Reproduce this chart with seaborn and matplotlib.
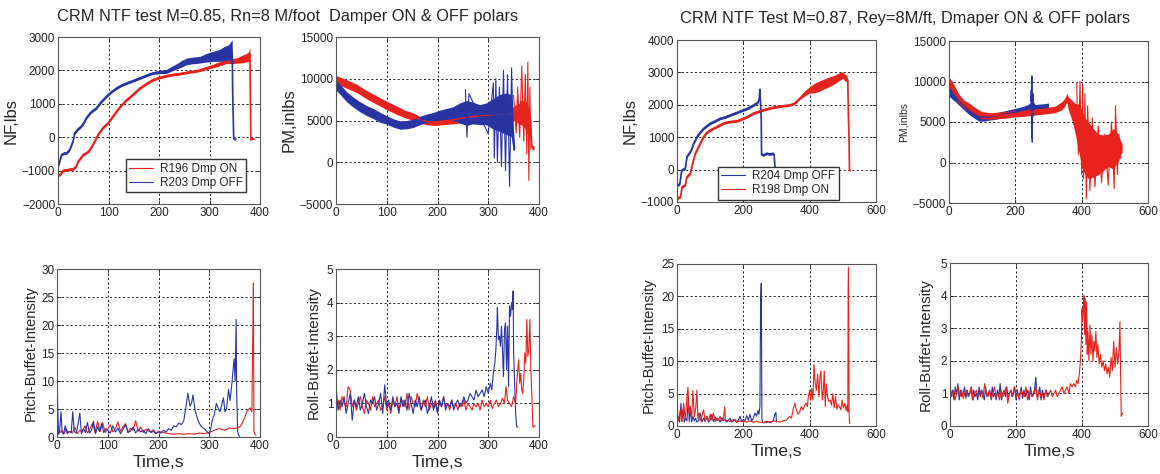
import numpy as np
import matplotlib
matplotlib.use("Agg")
import matplotlib.pyplot as plt
import seaborn as sns

sns.set_theme(style="white")
plt.rcParams['font.family'] = ['Liberation Sans', 'DejaVu Sans']

RED = "#e8221c"
BLUE = "#2834a2"

# ---------------- Left group: M=0.85 ----------------
nfL_red_t = [0,5,10,20,30,36,40,50,60,63, 70,76,80,90,99,110,116,125,136,150,
             162,175,188,200,215,230,241,255,268,280, 294,305,314,325,334,342,347,355,360,367,
             373,378,380,381,382,384,388]
nfL_red_v = [-1150,-1100,-1000,-970,-950,-870,-720,-520,-430,-370, -200,-25,100,300,425,650,775,950,1120,1300,
             1470,1600,1720,1780,1840,1880,1900,1940,1970,2000, 2070,2120,2170,2220,2270,2270,2280,2300,2320,2350,
             2380,2420,2500,1200,-80,-50,-50]
nfL_red_w = [40]*30 + [50,50,60,60,60,70,80,80,100,120,120,150,200,20,20,20,20]

nfL_blue_t = [0,3,7,12,17,22,26,30,33,40, 46,52,56,65,76,85,96,105,116,125,
              136,150,162,175,188,200,215,225,235,245, 255,268,281,294,307,320,330,338,344,345,
              346,348,350,352]
nfL_blue_v = [-870,-750,-520,-480,-470,-400,-270,-100,125,250, 325,450,575,750,875,1050,1225,1350,1470,1550,
              1620,1700,1770,1850,1920,1950,1970,2050,2120,2200, 2270,2300,2320,2380,2420,2450,2500,2520,2550,2500,
              1200,-50,-70,-50]
nfL_blue_w = [40]*25 + [50,60,70,80,100, 100,100,100,130,150,180,220,250,350,400, 30,20,20,20]

pmL_red_t = [0,20,41,60,80,100,119,135,152,165, 178,195,210,231,260,290,320,349,355,360,
             365,370,374,378,381,384,386,390]
pmL_red_v = [9900,9400,8840,8100,7445,6800,6250,5800,5460,5100, 4900,4800,4900,5100,5400,5600,5700,5800,5900,5800,
             6000,5800,5500,5000,4500,4000,1800,1700]
pmL_red_w = [500,500,500,500,500,500,500,450,450,400, 400,400,400,500,600,600,600,
             800,1000,1200,1500,1500,1800,1800,1500,1200,300,200]
pmL_red_spk_t = [350,355,358,362,366,370,373,376,378,380,382,384]
pmL_red_spk_v = [8000,3500,9000,3000,11500,2500,10500,1000,12000,-2200,9000,1500]

pmL_blue_t = [0,10,21,34,47,60,73,86,100,113, 126,139,152,165,178,191,205,218,231,244,
              257,270,283,296,309,322,336,345,349,352]
pmL_blue_v = [9230,8600,7840,7200,6650,6200,5850,5400,5060,4700, 4460,4500,4660,5000,5260,5450,5650,5750,5850,5900,
              5900,5900,5700,5800,5800,5900,5800,5600,3000,1700]
pmL_blue_w = [600,600,600,600,600,600,600,600,500,500, 500,500,500,500,500,500,600,700,800,1200,
              1500,1300,1200,1300,1800,2200,2500,2500,1500,300]
pmL_blue_spk_t = [255,258,262,300,310,312,315,318,322,326,330,334,338,342,346,350]
pmL_blue_spk_v = [8700,3000,8200,3400,9500,500,10000,0,9000,-500,11000,-1000,10500,-2900,11300,1500]

pitchL_blue_t = [0,1,3,5,8,10,13,16,20,24, 28,31,34,38,42,45,48,52,56,60,
                 64,68,72,76,80,84,88,92,96,100, 105,110,115,120,125,130,135,140,145,150,
                 155,160,165,170,175,180,185,190,195,200, 205,210,215,220,225,230,235,240,245,250,
                 255,258,262,265,268,272,276,280,285,290, 295,300,303,306,310,314,318,321,324,328,
                 331,334,338,341,344,347,349,351,353,354, 356,358,360]
pitchL_blue_v = [1,7,0.5,1,4.5,0.8,0.5,2,0.6,1, 0.8,4.5,1,0.7,2.5,4.3,0.6,1.5,0.8,2.6,
                 0.7,1.2,2.8,0.6,1.8,1,2.4,0.8,1.5,1.2, 0.7,2,0.9,1.6,0.6,1.3,2.2,0.8,1.1,1.8,
                 0.7,1.4,0.9,1.2,0.6,1.5,0.8,1.0,0.6,0.9, 0.7,1.2,0.9,1.5,1.2,2,1.8,2.5,2.2,3,
                 6,7.8,5.5,6,7.5,4.8,3.5,2.5,1.8,1.5, 1,0.6,1.5,3,4,6,5,4.5,5.5,7,
                 4.5,5,8.5,6.5,9,12,14,10,21,8, 1,0.3,0.1]
pitchL_red_t = [0,1,3,6,10,14,18,22,26,30, 35,40,45,50,55,60,65,70,75,80,
                85,90,95,100,105,110,115,120,125,130, 135,140,145,150,155,160,165,170,175,180,
                185,190,195,200,210,220,230,240,250,260, 270,280,290,300,310,320,330,340,350,360,
                365,370,374,378,381,384,386,387,388,390, 392]
pitchL_red_v = [10,2,0.6,0.8,1.2,0.6,1.5,0.8,1,0.7, 1.8,0.6,1.2,0.9,2,0.7,1.5,2.5,0.8,2.8,
                1,2.6,0.8,1.4,2.2,0.9,1.5,2.7,1,1.8, 2.4,0.8,1.6,1.2,2.9,1,1.8,0.8,1.4,1.1,
                0.9,1.3,0.7,1,0.8,0.6,0.5,0.6,0.5,0.6, 0.5,0.7,0.6,0.8,1.2,1.5,1.2,1.6,1.5,1.8,
                2.5,3.5,4.5,5,5.2,4.5,20,27.5,1,0.5, 0.3]

rollL_blue_t = list(range(0, 292, 4)) + [292,296,300,304,307,310,313,315,317,318,
                                           320,322,324,326,328,330,332,334,336,338,
                                           340,342,344,346,348,349,350,352,354,356,358]
rollL_blue_v = [1.55,0.8,1.1,0.9,1.2,0.7,1.0,1.3,0.5,1.1, 0.9,1.2,0.8,1.0,1.3,0.9,0.7,1.1,1.0,1.2,
                0.8,1.0,1.3,0.7,1.55,0.9,1.1,0.8,1.2,0.9, 1.0,0.7,1.2,0.9,1.1,0.8,1.3,1.0,0.7,1.1,
                0.9,1.2,0.8,1.0,1.1,0.7,0.9,1.2,0.8,1.0, 0.7,1.1,0.9,1.2,0.8,1.0,0.9,1.1,0.8,1.0,
                1.1,0.9,1.0,1.2,1.0,1.1,1.3,1.2,1.1,1.4, 1.2,1.3,1.4,
                1.2,1.5,1.3,1.6,1.4,1.9,2.2,2.6,3.3,3.85, 2.9,3.0,2.7,3.3,2.6,1.8,3.2,3.4,2.0,3.3,
                1.5,3.9,3.6,4.0,3.8,4.35,2.5,1.6,0.7,0.3, 0.3]
rollL_red_t = list(range(0, 300, 4)) + [300,304,308,312,316,320,324,328,332,335,
                                          338,342,346,350,354,357,360,362,364,366,
                                          368,370,372,374,376,378,380,382,384,386,388,390,392]
rollL_red_v = [0.9,1.1,0.8,1.2,1.0,0.9,1.5,1.4,0.9,1.1, 0.8,1.0,1.2,0.9,0.7,1.1,1.0,0.8,1.2,0.9,
               1.0,1.1,0.8,0.9,1.2,0.8,1.0,0.7,1.1,0.9, 1.2,0.8,1.0,1.1,0.9,1.3,0.8,1.2,1.0,0.9,
               1.3,1.0,0.8,1.1,0.9,1.2,0.8,1.0,0.9,1.1, 0.8,1.0,0.9,1.2,0.9,1.0,0.8,1.1,0.9,1.0,
               0.8,1.0,0.9,1.1,0.8,1.0,0.9,0.8,1.0,0.9, 1.0,0.8,1.1,0.9,1.0,
               0.9,1.1,0.85,1.0,1.1,0.9,1.0,1.15,1.0,1.5, 1.1,1.0,0.9,1.2,1.0,1.8,2.3,1.6,1.9,1.4,
               1.3,1.7,2.5,2.2,3.5,2.4,2.6,3.5,2.0,1.2, 0.3,0.3,0.35]

# ---------------- Right group: M=0.87 ----------------
nfR_blue_t = [0,8,10,13,15,25,28,30,40,45, 50,55,60,70,80,90,100,115,130,145,
              160,180,200,215,230,240,245,248,250,252, 254,255,257,260,270,280,290,293,295,298]
nfR_blue_v = [-475,-450,-320,-100,-10,40,250,400,550,650, 810,900,1015,1150,1270,1350,1430,1500,1580,1620,
              1680,1760,1840,1900,1990,2050,2100,2200,2480,2000, 1500,450,470,450,500,480,500,450,100,0]
nfR_blue_w = [40]*40
nfR_red_t = [0,10,13,15,25,28,30,40,45,50, 55,60,65,80,90,100,115,130,145,160,
             180,200,215,230,245,260,280,300,320,340, 355,370,385,400,415,430,445,460,475,490,
             500,505,510,513,515,517,519,520,522]
nfR_red_v = [-890,-840,-700,-530,-475,-300,-220,-115,100,300, 500,600,710,1015,1150,1220,1300,1380,1450,1480,
             1500,1580,1650,1740,1790,1840,1900,1940,1970,1990, 2050,2200,2350,2460,2520,2580,2650,2710,2780,2870,
             2920,2850,2820,2800,2700,1580,800,-30,-30]
nfR_red_w = [40]*32 + [80,100,150,160,150,150,130,120,100,100, 100,80,80,60,30,20,20]

pmR_blue_t = [0,10,20,30,45,60,75,90,105,120, 135,150,175,200,225,240,245,248,250,252,
              255,260,270,285,300]
pmR_blue_v = [8900,8500,8100,7670,7000,6440,6000,5620,5600,5620, 5700,5820,6000,6230,6450,6600,6650,6700,6650,6650,
              6650,6650,6700,6750,6850]
pmR_blue_w = [700,700,600,600,500,500,500,500,500,400, 400,400,450,450,500,600,800,1000,1500,1000,
              800,500,500,500,500]
pmR_blue_spk_t = [246,248,249,250,251,253,255]
pmR_blue_spk_v = [7500,9000,3000,10700,2500,8500,6000]
pmR_red_t = [0,10,20,30,45,60,80,100,125,150, 175,200,225,250,275,300,320,340,350,355,
             360,370,380,390,400,410,420,435,450,465, 480,495,505,512,518,522]
pmR_red_v = [9940,9400,8600,7880,7200,6850,6300,5820,5750,5820, 5900,6030,6100,6230,6330,6440,6550,7000,7500,8000,
             7300,6500,5500,4400,3000,2000,1500,1200,1000,1200, 1500,1700,1800,1800,1800,1800]
pmR_red_w = [600,600,600,550,500,500,450,450,400,400, 400,400,400,400,400,400,400,500,500,500,
             800,1200,1800,2800,3500,3500,3500,3000,2500,2200, 2000,2500,2000,1500,800,500]
pmR_red_spk_t = [385,390,395,400,403,406,410,414,418,425,432,440,450,460,470,480,490,498,502,508,512,518]
pmR_red_spk_v = [9800,1000,10000,-1500,9500,-2000,8500,-4500,7000,-3500,5500,-3000,4500,-2500,3500,-2800,
                 5000,-3200,7000,-1500,3500,500]

pitchR_blue_t = [0,2,5,8,12,15,18,22,26,30, 34,37,40,44,48,52,56,60,65,70,
                 75,80,85,90,95,100,105,110,115,120, 125,130,135,140,145,150,155,160,165,170,
                 175,180,185,190,195,200,205,210,215,220, 225,230,235,240,244,247,250,252,254,256,
                 258,262,266,270,275,280,285,290,295,298, 300]
pitchR_blue_v = [5,0.8,1.5,0.6,3.5,0.7,2.5,0.6,1.2,0.8, 4.5,0.7,3,0.6,1.5,0.8,1.2,0.6,0.9,2,
                 0.6,1.2,0.7,1.5,0.6,0.9,1.8,0.7,1.4,0.8, 1.1,0.6,1.3,0.8,1.0,0.6,0.9,1.2,0.6,0.8,
                 1.0,0.6,0.9,1.5,0.7,1.0,0.8,1.6,0.9,1.8, 0.8,1.2,2.0,1.5,2.4,1.8,3,19,22,1,
                 0.6,0.5,0.6,0.5,0.7,0.5,0.6,0.8,1.8,2.1, 0.6]
pitchR_red_t = [0,2,5,10,15,20,25,30,33,36, 40,44,48,52,56,60,63,66,70,75,
                80,85,90,95,100,105,110,115,120,125, 130,135,140,144,146,150,160,170,180,190,
                200,210,220,230,240,250,260,270,280,290, 300,310,320,330,340,345,350,355,360,365,
                370,375,380,385,390,393,396,400,403,406, 410,413,416,420,424,428,431,434,438,441,
                444,447,450,454,458,462,466,470,474,478, 482,486,490,494,498,502,506,510,513,515,
                516,517,518,519,520,522]
pitchR_red_v = [8,1.5,0.8,2.5,0.7,3.5,1,4.5,6,2, 3,1,5.5,1.5,2.5,5.5,1.2,2,0.8,1.5,
                2.5,0.7,1.5,0.8,1.8,0.9,2,0.7,1.2,0.9, 1.5,0.8,1.1,3,0.8,0.9,0.7,1.0,0.6,0.8,
                0.7,0.6,0.8,0.6,0.7,0.6,0.5,0.7,0.6,0.8, 0.7,0.6,0.8,0.9,1.5,1.2,2.5,3.5,2.5,1.8,
                2.2,3,2.5,3.2,3.5,3,4.5,5.5,4,5.8, 4,9.5,7,5.5,8,4.5,7.5,8.5,4,5.5,
                8.5,3,6.5,4.5,3.8,4,3.2,5,2.8,4.5, 2.6,3.2,3,2.5,4,2.8,3.5,2.4,3.2,2.2,
                21,24.5,14,2,0.5,0.4]

rollR_blue_t = list(range(0, 304, 4))
rollR_blue_v = [1.3,0.9,1.1,0.8,1.2,0.95,1.3,0.8,1.1,0.9, 1.0,1.2,0.85,1.1,0.9,1.0,1.2,0.8,1.1,0.9,
                1.0,0.8,1.2,0.9,1.1,1.0,0.8,1.2,0.9,1.0, 1.1,0.85,1.2,0.9,1.0,0.8,1.1,0.9,1.3,0.8,
                1.0,1.1,0.9,1.2,0.85,1.0,1.1,0.9,1.0,1.2, 0.8,1.1,0.9,1.0,1.2,0.85,1.1,0.9,1.0,1.1,
                0.8,1.2,0.9,1.0,1.1,1.5,0.9,1.0,1.2,0.8, 1.1,0.9,1.0,1.1,0.9,1.0]
rollR_red_t = list(range(0, 380, 5)) + [380,384,388,392,395,398,400,402,404,406,
                                          408,410,412,414,416,418,421,424,427,430,
                                          433,436,439,442,445,448,452,456,460,464,
                                          468,472,476,480,484,488,492,496,500,504,
                                          508,512,515,517,519,521,523]
rollR_red_v = [1.2,0.9,1.1,0.8,1.0,1.2,0.9,1.1,0.85,1.0, 1.1,0.9,1.0,1.2,0.8,1.0,1.1,0.9,1.0,1.1,
               0.85,1.3,1.0,0.9,1.1,0.8,1.0,1.2,0.9,1.0, 0.8,1.1,0.9,1.0,1.2,0.7,1.0,1.1,0.9,1.2,
               0.9,1.0,0.8,1.1,1.0,0.9,1.2,0.8,1.0,1.1, 0.9,1.0,1.2,0.8,1.1,0.9,1.0,0.8,1.1,0.9,
               1.0,1.1,0.9,1.0,1.1,0.9,1.0,1.1,1.2,1.0, 1.1,1.2,1.0,1.3,1.2,1.3,
               1.2,1.4,1.3,1.6,2.0,2.6,3.6,3.2,3.7,4.0, 2.8,3.9,2.5,3.8,2.2,2.9,2.0,3.1,2.2,2.8,
               2.0,2.6,2.3,2.9,2.1,2.5,1.9,2.2,1.8,2.0, 1.7,1.9,1.6,1.8,1.5,2.1,1.7,2.6,1.8,2.4,
               1.9,2.3,3.2,1.5,0.3,0.35,0.4]

titles = ["CRM NTF test M=0.85, Rn=8 M/foot  Damper ON & OFF polars",
          "CRM NTF Test M=0.87, Rey=8M/ft, Dmaper ON & OFF polars"]

# ---------------- drawing ----------------
W, H = 1160, 474
fig = plt.figure(figsize=(W / 100, H / 100), dpi=100)


def make_ax(x0, y0, x1, y1):
    return fig.add_axes([x0 / W, 1 - y1 / H, (x1 - x0) / W, (y1 - y0) / H])


def style(ax, xlim, xticks, ylim, yticks):
    ax.set_xlim(*xlim)
    ax.set_ylim(*ylim)
    ax.set_xticks(xticks)
    ax.set_yticks(yticks)
    ax.grid(True, color="k", linestyle=(0, (2, 2.5)), linewidth=0.7)
    ax.tick_params(direction="in", length=3, width=0.6, labelsize=8.5, pad=2,
                   colors="#222222", bottom=True, left=True, top=True, right=True)
    for s in ax.spines.values():
        s.set_color("#555555")
        s.set_linewidth(0.8)
    ax.set_xlabel("")
    ax.set_ylabel("")


def band(ax, t, v, w, color, lw=1.2, label=None):
    v = np.asarray(v, float)
    w = np.asarray(w, float)
    ax.fill_between(t, v - w, v + w, color=color, linewidth=0)
    sns.lineplot(x=t, y=v, ax=ax, color=color, lw=lw, estimator=None, sort=False, label=label)


def line(ax, t, v, color, lw=0.8):
    sns.lineplot(x=t, y=v, ax=ax, color=color, lw=lw, estimator=None, sort=False)


def legend(ax, anchor):
    leg = ax.legend(loc="lower left", bbox_to_anchor=anchor, fontsize=8.5, frameon=True,
                    fancybox=False, edgecolor="#333333", framealpha=1, handlelength=2.0,
                    borderpad=0.3, labelspacing=0.15, borderaxespad=0, handletextpad=0.6)
    for h in leg.get_lines():
        h.set_linewidth(0.8)


# Left NF
ax = make_ax(58, 37, 260, 204)
band(ax, nfL_red_t, nfL_red_v, nfL_red_w, RED, label="R196 Dmp ON")
band(ax, nfL_blue_t, nfL_blue_v, nfL_blue_w, BLUE, label="R203 Dmp OFF")
style(ax, (0, 400), [0, 100, 200, 300, 400], (-2000, 3000), range(-2000, 3001, 1000))
ax.set_ylabel("NF,lbs", fontsize=12, labelpad=2)
legend(ax, (0.335, 0.07))

# Left PM
ax = make_ax(336, 37, 539, 204)
band(ax, pmL_red_t, pmL_red_v, pmL_red_w, RED, lw=1)
line(ax, pmL_red_spk_t, pmL_red_spk_v, RED, lw=0.8)
band(ax, pmL_blue_t, pmL_blue_v, pmL_blue_w, BLUE, lw=1)
line(ax, pmL_blue_spk_t, pmL_blue_spk_v, BLUE, lw=0.8)
style(ax, (0, 400), [0, 100, 200, 300, 400], (-5000, 15000), range(-5000, 15001, 5000))
ax.set_ylabel("PM,inlbs", fontsize=12, labelpad=2)

# Left Pitch
ax = make_ax(57, 269, 260, 437)
line(ax, pitchL_red_t, pitchL_red_v, RED)
line(ax, pitchL_blue_t, pitchL_blue_v, BLUE)
style(ax, (0, 400), [0, 100, 200, 300, 400], (0, 30), range(0, 31, 5))
ax.set_ylabel("Pitch-Buffet-Intensity", fontsize=10.5, labelpad=2)
ax.set_xlabel("Time,s", fontsize=12.5, labelpad=2)

# Left Roll
ax = make_ax(336, 269, 539, 437)
line(ax, rollL_red_t, rollL_red_v, RED)
line(ax, rollL_blue_t, rollL_blue_v, BLUE)
style(ax, (0, 400), [0, 100, 200, 300, 400], (0, 5), range(0, 6))
ax.set_ylabel("Roll-Buffet-Intensity", fontsize=11, labelpad=4)
ax.set_xlabel("Time,s", fontsize=12.5, labelpad=2)

# Right NF
ax = make_ax(677, 40, 876, 202)
band(ax, nfR_blue_t, nfR_blue_v, nfR_blue_w, BLUE, label="R204 Dmp OFF")
band(ax, nfR_red_t, nfR_red_v, nfR_red_w, RED, label="R198 Dmp ON")
style(ax, (0, 600), [0, 200, 400, 600], (-1000, 4000), range(-1000, 4001, 1000))
ax.set_ylabel("NF,lbs", fontsize=12, labelpad=2)
legend(ax, (0.205, 0.015))

# Right PM
ax = make_ax(949, 41, 1148, 203)
band(ax, pmR_blue_t, pmR_blue_v, pmR_blue_w, BLUE, lw=1)
line(ax, pmR_blue_spk_t, pmR_blue_spk_v, BLUE, lw=0.8)
band(ax, pmR_red_t, pmR_red_v, pmR_red_w, RED, lw=1)
line(ax, pmR_red_spk_t, pmR_red_spk_v, RED, lw=0.8)
style(ax, (0, 600), [0, 200, 400, 600], (-5000, 15000), range(-5000, 15001, 5000))
ax.set_ylabel("PM,inlbs", fontsize=7.5, labelpad=3)

# Right Pitch
ax = make_ax(677, 264, 876, 426)
line(ax, pitchR_blue_t, pitchR_blue_v, BLUE)
line(ax, pitchR_red_t, pitchR_red_v, RED)
style(ax, (0, 600), [0, 200, 400, 600], (0, 25), range(0, 26, 5))
ax.set_ylabel("Pitch-Buffet-Intensity", fontsize=10.5, labelpad=4)
ax.set_xlabel("Time,s", fontsize=12.5, labelpad=2)

# Right Roll
ax = make_ax(950, 263, 1148, 426)
line(ax, rollR_blue_t, rollR_blue_v, BLUE)
line(ax, rollR_red_t, rollR_red_v, RED)
style(ax, (0, 600), [0, 200, 400, 600], (0, 5), range(0, 6))
ax.set_ylabel("Roll-Buffet-Intensity", fontsize=11, labelpad=6)
ax.set_xlabel("Time,s", fontsize=12.5, labelpad=2)

fig.text(288 / W, 1 - 16 / H, titles[0], ha="center", va="center", fontsize=11.8)
fig.text(905 / W, 1 - 18 / H, titles[1], ha="center", va="center", fontsize=11.8)

fig.savefig("out.png", dpi=100)
